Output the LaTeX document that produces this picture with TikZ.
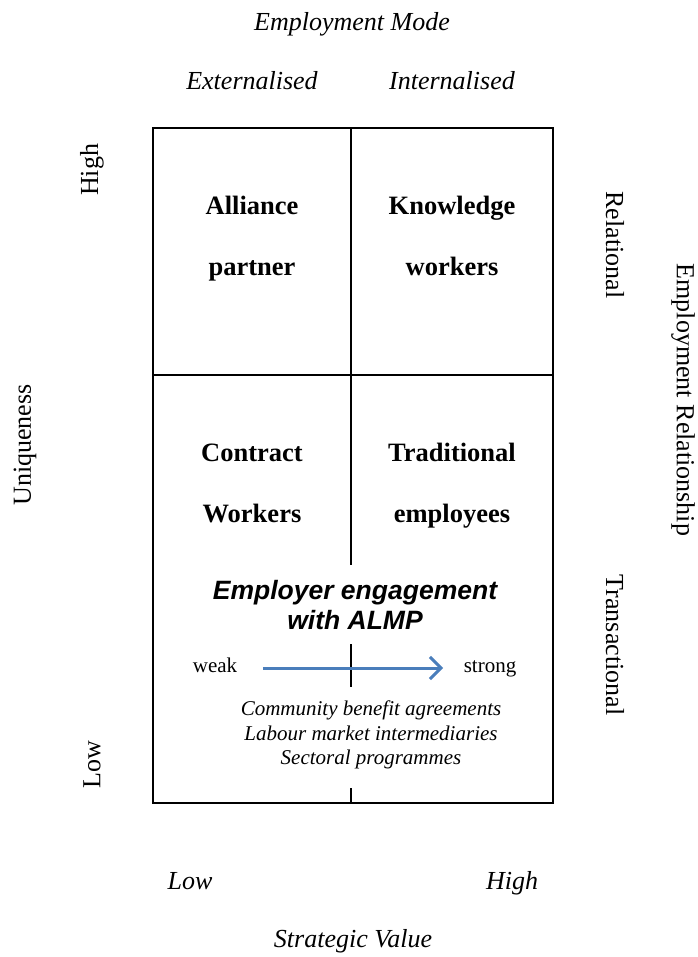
\documentclass[tikz,border=0pt]{standalone}
\usepackage{fontspec}
\setmainfont{Liberation Serif}
\newfontfamily\almpfont{Liberation Sans}
\usetikzlibrary{arrows.meta}

\definecolor{almpblue}{RGB}{74,126,187}

\tikzset{
  grid line/.style={line width=1.8pt},
  axis title/.style={font=\fontsize{26}{30}\selectfont\itshape,anchor=base},
  side title/.style={font=\fontsize{26}{30}\selectfont},
  quadrant/.style={font=\fontsize{26.5}{61}\selectfont\bfseries,align=center,
    inner sep=0pt,text depth=0pt,anchor=south},
  small/.style={font=\fontsize{21}{24}\selectfont,inner sep=0pt,
    text height=8pt,text depth=0pt,anchor=base},
}

\begin{document}
\begin{tikzpicture}[x=1pt,y=-1pt]
        \useasboundingbox (0,0) rectangle (697,957);

        % the matrix
        \draw[grid line] (153,128) rectangle (553,803);
        \draw[grid line] (153,375) -- (553,375);
        \draw[grid line] (351,128) -- (351,565);
        \draw[grid line] (351,644) -- (351,687);
        \draw[grid line] (351,788) -- (351,803);

        % top and bottom
        \node[axis title] (mode) at (352,31) {Employment Mode};
        \node[axis title] (ext) at (252,90) {Externalised};
        \node[axis title] (int) at (452,90) {Internalised};
        \node[axis title] (vlow) at (190,889) {Low};
        \node[axis title] (vhigh) at (512,889) {High};
        \node[axis title] (value) at (353,947) {Strategic Value};

        % left and right
        \node[side title,rotate=90] (uhigh) at (92,170) {High};
        \node[side title,rotate=90] (ulow) at (92,765) {Low};
        \node[side title,rotate=90] (uniq) at (25,445) {Uniqueness};
        \node[side title,rotate=-90] (rel) at (615,245) {Relational};
        \node[side title,rotate=-90] (trans) at (615,645) {Transactional};
        \node[side title,rotate=-90] (relship) at (683,400) {Employment Relationship};

        % quadrants
        \node[quadrant] (alliance) at (252,276) {Alliance\\partner};
        \node[quadrant] (knowledge) at (452,276) {Knowledge\\workers};
        \node[quadrant] (contract) at (252,523) {Contract\\Workers};
        \node[quadrant] (traditional) at (452,523) {Traditional\\employees};

        % ALMP
        \node[font=\fontsize{26.5}{30}\selectfont\almpfont\bfseries\itshape,align=center,
          inner sep=0pt,text depth=0pt,anchor=south]
          (almp) at (355,630) {Employer engagement\\with ALMP};
        \node[small] (weak) at (215,672) {weak};
        \node[small] (strong) at (490,672) {strong};
        \draw[almpblue,line width=3pt,-{Straight Barb[length=11pt,width=22pt]},
          shorten <=25.5pt,shorten >=20.5pt] (weak) -- (strong);
        \node[font=\fontsize{21}{24.5}\selectfont\itshape,align=center,
          inner sep=0pt,text depth=0pt,anchor=south]
          (prog) at (371,765) {Community benefit agreements\\Labour market intermediaries\\Sectoral programmes};
      \end{tikzpicture}
\end{document}
